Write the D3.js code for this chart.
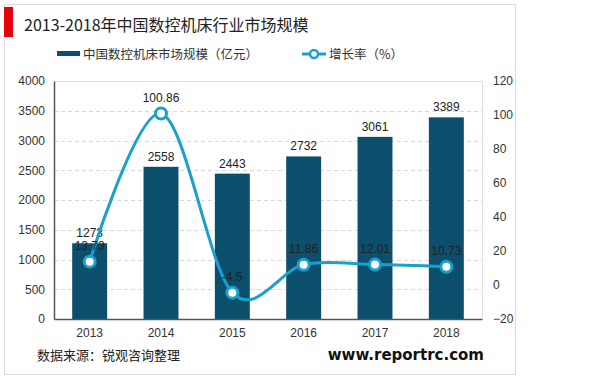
<!DOCTYPE html>
<html>
<head>
<meta charset="utf-8">
<script src="https://cdn.jsdelivr.net/npm/d3@7"></script>
<style>
  body { margin: 0; background: #fff; }
  svg { display: block; font-family: "Liberation Sans", Arial, "Noto Sans CJK SC", sans-serif; }
  .cn { font-family: "Noto Sans CJK SC", "Liberation Sans", sans-serif; }
</style>
</head>
<body>
<svg width="600" height="381"></svg>
<script>
// Chart data
var years = ['2013', '2014', '2015', '2016', '2017', '2018'];
var marketSize = [1273, 2558, 2443, 2732, 3061, 3389];
var growthRate = [13.73, 100.86, -4.5, 11.86, 12.01, 10.73];
var leftTicks = [0, 500, 1000, 1500, 2000, 2500, 3000, 3500, 4000];
var rightTicks = [-20, 0, 20, 40, 60, 80, 100, 120];

var barColor = '#0b4f6c';
var lineColor = '#1aa0cc';

var svg = d3.select('svg');

// Card frame
svg.append('rect')
    .attr('x', 4.5).attr('y', 4.5)
    .attr('width', 511).attr('height', 370)
    .attr('fill', '#fff')
    .attr('stroke', '#dcdcdc');

// Red title marker
svg.append('rect')
    .attr('x', 4).attr('y', 7)
    .attr('width', 9).attr('height', 30)
    .attr('fill', '#e8000b');

svg.append('text')
    .attr('class', 'cn')
    .attr('x', 24).attr('y', 31)
    .attr('font-size', 16)
    .attr('fill', '#222')
    .text('2013-2018年中国数控机床行业市场规模');

// Plot area
var plotL = 54, plotR = 482, plotT = 81, plotB = 319;

var x = d3.scaleBand().domain(years).range([plotL, plotR]).paddingInner(0.51).paddingOuter(0.255);
var yL = d3.scaleLinear().domain([0, 4000]).range([plotB, plotT]);
var yR = d3.scaleLinear().domain([-20, 120]).range([plotB, plotT]);

// Plot border (top and right)
svg.append('path')
    .attr('d', 'M' + plotL + ',' + (plotT + 0.5) + 'H' + (plotR + 0.5) + 'V' + plotB)
    .attr('fill', 'none')
    .attr('stroke', '#e0e0e0');

// Grid lines
svg.append('g')
  .selectAll('line')
  .data(leftTicks.slice(1, -1))
  .enter().append('line')
    .attr('x1', plotL).attr('x2', plotR)
    .attr('y1', d => Math.round(yL(d)) + 0.5)
    .attr('y2', d => Math.round(yL(d)) + 0.5)
    .attr('stroke', '#d9d9d9')
    .attr('stroke-dasharray', '4,3');

// Bars
svg.append('g')
  .selectAll('rect')
  .data(marketSize)
  .enter().append('rect')
    .attr('x', (d, i) => x(years[i]))
    .attr('y', d => yL(d))
    .attr('width', x.bandwidth())
    .attr('height', d => plotB - yL(d))
    .attr('fill', barColor);

// Axes
var axisL = svg.append('g')
    .attr('transform', 'translate(' + plotL + ',0)')
    .call(d3.axisLeft(yL).tickValues(leftTicks).tickFormat(d3.format('d')).tickSize(0).tickPadding(9));
axisL.select('.domain').attr('stroke', '#555').attr('stroke-width', 1.5);
axisL.selectAll('text').attr('font-size', 12).attr('fill', '#333');

var axisR = svg.append('g')
    .attr('transform', 'translate(' + plotR + ',0)')
    .call(d3.axisRight(yR).tickValues(rightTicks).tickFormat(d3.format('d')).tickSize(0).tickPadding(11));
axisR.select('.domain').remove();
axisR.selectAll('text').attr('font-size', 12).attr('fill', '#333');

var axisB = svg.append('g')
    .attr('transform', 'translate(0,' + plotB + ')')
    .call(d3.axisBottom(x).tickSize(0).tickPadding(9));
axisB.select('.domain').attr('stroke', '#555').attr('stroke-width', 1.5);
axisB.selectAll('text').attr('font-size', 12).attr('fill', '#333');

// Bar labels
svg.append('g')
  .selectAll('text')
  .data(marketSize)
  .enter().append('text')
    .attr('x', (d, i) => x(years[i]) + x.bandwidth() / 2)
    .attr('y', d => yL(d) - 6)
    .attr('text-anchor', 'middle')
    .attr('font-size', 12)
    .attr('fill', '#222')
    .text(d => d);

// Growth rate line
var line = d3.line()
    .x((d, i) => x(years[i]) + x.bandwidth() / 2)
    .y(d => yR(d))
    .curve(d3.curveCardinal.tension(0));

svg.append('path')
    .datum(growthRate)
    .attr('d', line)
    .attr('fill', 'none')
    .attr('stroke', lineColor)
    .attr('stroke-width', 3);

svg.append('g')
  .selectAll('circle')
  .data(growthRate)
  .enter().append('circle')
    .attr('cx', (d, i) => x(years[i]) + x.bandwidth() / 2)
    .attr('cy', d => yR(d))
    .attr('r', 5.5)
    .attr('fill', '#fff')
    .attr('stroke', lineColor)
    .attr('stroke-width', 3);

svg.append('g')
  .selectAll('text')
  .data(growthRate)
  .enter().append('text')
    .attr('x', (d, i) => x(years[i]) + x.bandwidth() / 2)
    .attr('y', d => yR(d) - 12)
    .attr('text-anchor', 'middle')
    .attr('font-size', 12)
    .attr('fill', '#222')
    .text(d => d);

// Legend
var legend = svg.append('g');
legend.append('rect')
    .attr('x', 57).attr('y', 51)
    .attr('width', 23).attr('height', 5)
    .attr('fill', barColor);
legend.append('text')
    .attr('class', 'cn')
    .attr('x', 83).attr('y', 58.5)
    .attr('font-size', 12.5)
    .attr('fill', '#333')
    .text('中国数控机床市场规模（亿元）');

legend.append('line')
    .attr('x1', 302).attr('x2', 326)
    .attr('y1', 54).attr('y2', 54)
    .attr('stroke', lineColor)
    .attr('stroke-width', 3);
legend.append('circle')
    .attr('cx', 314).attr('cy', 54)
    .attr('r', 4)
    .attr('fill', '#fff')
    .attr('stroke', lineColor)
    .attr('stroke-width', 2.5);
legend.append('text')
    .attr('class', 'cn')
    .attr('x', 329).attr('y', 58.5)
    .attr('font-size', 12.5)
    .attr('fill', '#333')
    .text('增长率（%）');

// Footer
svg.append('text')
    .attr('class', 'cn')
    .attr('x', 37).attr('y', 360)
    .attr('font-size', 13)
    .attr('fill', '#222')
    .text('数据来源：锐观咨询整理');

svg.append('text')
    .attr('x', 484).attr('y', 360)
    .attr('text-anchor', 'end')
    .attr('font-size', 15)
    .attr('font-weight', 'bold')
    .attr('font-family', '"DejaVu Sans", Verdana, sans-serif')
    .attr('fill', '#111')
    .text('www.reportrc.com');
</script>
</body>
</html>
